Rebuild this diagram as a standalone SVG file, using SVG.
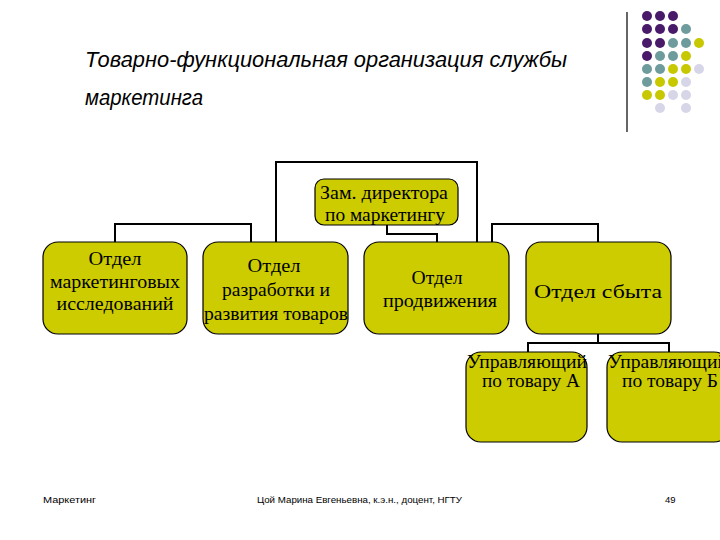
<svg xmlns="http://www.w3.org/2000/svg" width="720" height="540" viewBox="0 0 720 540">
<style>
.box{fill:#CCCC00;stroke:#000;stroke-width:1.2}
.ln{fill:none;stroke:#000;stroke-width:2}
.t{font-family:"Liberation Serif","DejaVu Serif",serif;font-size:18px;fill:#000;text-anchor:middle}
.ft{font-family:"Liberation Sans",Arial,sans-serif;font-size:9.5px;fill:#000}
.P{fill:#4A1A6A}.T{fill:#6E9C9C}.Y{fill:#C8C800}.L{fill:#D6D6E8}
</style>
<rect width="720" height="540" fill="#fff"/>
<g id="decor">
<line x1="627" y1="12" x2="627" y2="132" stroke="#000" stroke-width="1.2"/>
<g>
<circle class="P" cx="647" cy="16" r="5"/><circle class="P" cx="660" cy="16" r="5"/><circle class="P" cx="673" cy="16" r="5"/>
<circle class="P" cx="647" cy="29" r="5"/><circle class="P" cx="660" cy="29" r="5"/><circle class="P" cx="673" cy="29" r="5"/><circle class="T" cx="686" cy="29" r="5"/>
<circle class="P" cx="647" cy="43" r="5"/><circle class="P" cx="660" cy="43" r="5"/><circle class="T" cx="673" cy="43" r="5"/><circle class="T" cx="686" cy="43" r="5"/><circle class="Y" cx="699" cy="43" r="5"/>
<circle class="P" cx="647" cy="56" r="5"/><circle class="T" cx="660" cy="56" r="5"/><circle class="T" cx="673" cy="56" r="5"/><circle class="Y" cx="686" cy="56" r="5"/>
<circle class="T" cx="647" cy="69" r="5"/><circle class="T" cx="660" cy="69" r="5"/><circle class="Y" cx="673" cy="69" r="5"/><circle class="Y" cx="686" cy="69" r="5"/><circle class="L" cx="699" cy="69" r="5"/>
<circle class="T" cx="647" cy="82" r="5"/><circle class="Y" cx="660" cy="82" r="5"/><circle class="Y" cx="673" cy="82" r="5"/><circle class="L" cx="686" cy="82" r="5"/>
<circle class="Y" cx="647" cy="95" r="5"/><circle class="Y" cx="660" cy="95" r="5"/><circle class="L" cx="673" cy="95" r="5"/><circle class="L" cx="686" cy="95" r="5"/>
<circle class="L" cx="660" cy="108" r="5"/><circle class="L" cx="686" cy="108" r="5"/>
</g>
</g>
<g id="title" font-family="'Liberation Sans',Arial,sans-serif" font-size="21.5" font-style="italic" fill="#000">
<text x="85" y="67" textLength="482" lengthAdjust="spacingAndGlyphs">Товарно-функциональная организация службы</text>
<text x="85" y="105" textLength="118" lengthAdjust="spacingAndGlyphs">маркетинга</text>
</g>
<g id="connectors">
<polyline class="ln" points="276,242 276,162 477,162 477,242"/>
<polyline class="ln" points="115,242 115,224 251,224 251,242"/>
<polyline class="ln" points="387,225 387,234 437,234 437,242"/>
<polyline class="ln" points="492,242 492,224 598,224 598,242"/>
<line class="ln" x1="598" y1="334" x2="598" y2="343"/>
<polyline class="ln" points="528,352 528,343 669,343 669,352"/>
</g>
<g id="director">
<rect class="box" x="315" y="179" width="143" height="46" rx="9"/>
<text class="t" x="384" y="199" font-size="16.5" textLength="128" lengthAdjust="spacingAndGlyphs">Зам. директора</text>
<text class="t" x="385" y="221" font-size="16.5" textLength="120" lengthAdjust="spacingAndGlyphs">по маркетингу</text>
</g>
<g id="dept1">
<rect class="box" x="43" y="242" width="144" height="92" rx="15"/>
<text class="t" x="115" y="265" textLength="53" lengthAdjust="spacingAndGlyphs">Отдел</text>
<text class="t" x="115" y="288" textLength="130" lengthAdjust="spacingAndGlyphs">маркетинговых</text>
<text class="t" x="115" y="310" textLength="117" lengthAdjust="spacingAndGlyphs">исследований</text>
</g>
<g id="dept2">
<rect class="box" x="203" y="242" width="145" height="92" rx="15"/>
<text class="t" x="274" y="272" textLength="53" lengthAdjust="spacingAndGlyphs">Отдел</text>
<text class="t" x="276" y="296" textLength="108" lengthAdjust="spacingAndGlyphs">разработки и</text>
<text class="t" x="276" y="320" textLength="144" lengthAdjust="spacingAndGlyphs">развития товаров</text>
</g>
<g id="dept3">
<rect class="box" x="364" y="242" width="145" height="92" rx="15"/>
<text class="t" x="437" y="284" textLength="51" lengthAdjust="spacingAndGlyphs">Отдел</text>
<text class="t" x="440" y="307" textLength="114" lengthAdjust="spacingAndGlyphs">продвижения</text>
</g>
<g id="dept4">
<rect class="box" x="526" y="242" width="145" height="92" rx="15"/>
<text class="t" x="598" y="298" font-size="24" textLength="128" lengthAdjust="spacingAndGlyphs">Отдел сбыта</text>
</g>
<g id="managerA">
<rect class="box" x="466" y="352" width="121" height="90" rx="15"/>
<text class="t" x="527" y="368" font-size="16" textLength="120" lengthAdjust="spacingAndGlyphs">Управляющий</text>
<text class="t" x="531" y="387" font-size="16" textLength="98" lengthAdjust="spacingAndGlyphs">по товару А</text>
</g>
<g id="managerB">
<rect class="box" x="607" y="352" width="122" height="90" rx="15"/>
<text class="t" x="668" y="368" font-size="16" textLength="120" lengthAdjust="spacingAndGlyphs">Управляющий</text>
<text class="t" x="670" y="387" font-size="16" textLength="96" lengthAdjust="spacingAndGlyphs">по товару Б</text>
</g>
<g id="footer">
<text class="ft" x="43" y="503" textLength="53" lengthAdjust="spacingAndGlyphs">Маркетинг</text>
<text class="ft" x="257" y="503" textLength="205" lengthAdjust="spacingAndGlyphs">Цой Марина Евгеньевна, к.э.н., доцент, НГТУ</text>
<text class="ft" x="665" y="503">49</text>
</g>
</svg>
